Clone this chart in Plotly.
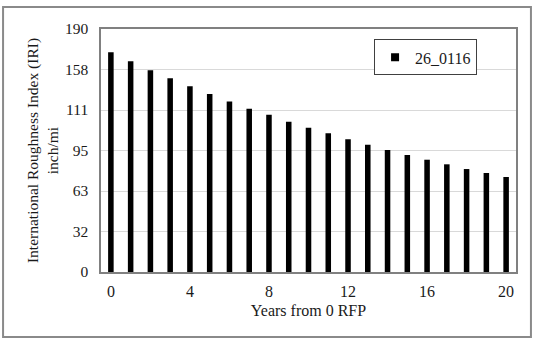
import numpy as np
import plotly.graph_objects as go

years = list(range(21))
iri = [171.8, 164.7, 157.7, 151.4, 145.2, 139.2, 133.4, 127.7, 123.0, 117.5,
       112.8, 108.4, 103.7, 99.5, 95.4, 91.5, 87.8, 84.2, 80.5, 77.4, 74.3]
series_name = "26_0116"
y_tick_text = ["0", "32", "63", "95", "111", "158", "190"]
y_max = 190
x_tick_vals = [0, 4, 8, 12, 16, 20]

font_family = "Liberation Serif, Times New Roman, serif"

fig = go.Figure()
fig.add_trace(go.Bar(
    x=years, y=iri, name=series_name, width=0.28,
    marker=dict(color="black", line=dict(width=0)),
    showlegend=False,
))
# legend entry with a small square key
fig.add_trace(go.Scatter(
    x=[None], y=[None], mode="markers", name=series_name,
    marker=dict(symbol="square", size=8, color="black"),
    showlegend=True,
))

fig.update_layout(
    width=534, height=341,
    margin=dict(l=101, r=18, t=29, b=69),
    paper_bgcolor="white", plot_bgcolor="white",
    font=dict(family=font_family, size=15, color="#1a1a1a"),
    showlegend=True,
    legend=dict(
        x=0.658, y=0.957, xanchor="left", yanchor="top",
        bordercolor="#404040", borderwidth=1,
        font=dict(family=font_family, size=16, color="#1a1a1a"),
        bgcolor="white", itemwidth=30,
        tracegroupgap=0,
    ),
    xaxis=dict(
        range=[-0.5, 20.5], tickmode="array", tickvals=x_tick_vals,
        showgrid=False, zeroline=False,
        showline=True, linecolor="#808080", linewidth=1.5, mirror=True,
        ticks="", ticklen=0, ticklabelstandoff=4,
        tickfont=dict(size=16),
        title=dict(text="Years from 0 RFP", font=dict(size=16), standoff=6),
    ),
    yaxis=dict(
        range=[0, y_max], tickmode="array",
        tickvals=list(np.linspace(0, y_max, len(y_tick_text))),
        ticktext=y_tick_text,
        showgrid=True, gridcolor="#d9d9d9", gridwidth=1, zeroline=False,
        showline=True, linecolor="#808080", linewidth=1.5, mirror=True,
        ticks="", ticklabelstandoff=8,
        tickfont=dict(size=15.5),
        title=dict(text="International Roughness Index (IRI)<br>inch/mi",
                   font=dict(size=15.5), standoff=2),
    ),
    shapes=[dict(
        type="rect", xref="paper", yref="paper",
        x0=-0.236, x1=1.036, y0=-0.2675, y1=1.0905,
        line=dict(color="#8a8a8a", width=2), fillcolor="rgba(0,0,0,0)",
        layer="below",
    )],
)

fig.write_html("out.html")
